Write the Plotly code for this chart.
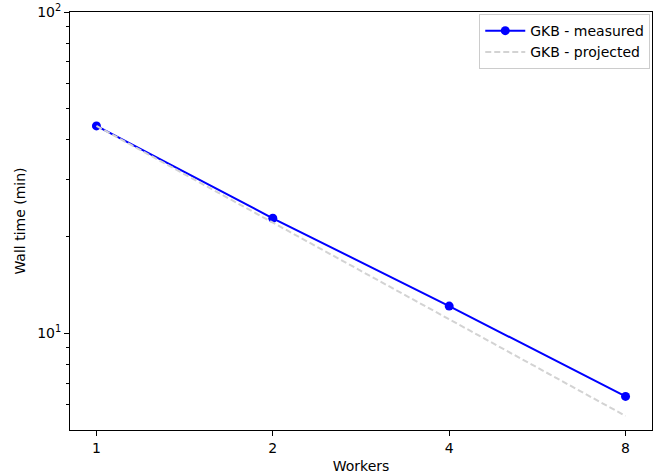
import numpy as np
import plotly.graph_objects as go

workers = [1, 2, 4, 8]
measured = [44.2, 22.8, 12.15, 6.36]
projected = [44.2, 22.1, 11.05, 5.53]
x_ticks = [1, 2, 4, 8]
x_tick_labels = ["1", "2", "4", "8"]
y_ticks = [10, 100]
y_tick_labels = ["10<sup>1</sup>", "10<sup>2</sup>"]
y_minor = [6, 7, 8, 9, 20, 30, 40, 50, 60, 70, 80, 90]

fig = go.Figure()
fig.add_trace(go.Scatter(
    x=workers, y=measured, mode="lines+markers", name="GKB - measured",
    line=dict(color="#0000ff", width=2), marker=dict(size=9, color="#0000ff")))
fig.add_trace(go.Scatter(
    x=workers, y=projected, mode="lines", name="GKB - projected",
    line=dict(color="#d3d3d3", width=2, dash="6px,3px")))

font = "DejaVu Sans"
fig.update_layout(
    width=666, height=475,
    margin=dict(l=70, r=14, t=12, b=45),
    paper_bgcolor="white", plot_bgcolor="white",
    font=dict(family=font, size=14, color="black"),
    showlegend=True,
    legend=dict(x=0.997, y=0.995, xanchor="right", yanchor="top",
                bordercolor="#cccccc", borderwidth=1, bgcolor="rgba(255,255,255,0.8)",
                font=dict(size=14), tracegroupgap=0, itemwidth=40),
    xaxis=dict(type="log", range=[np.log10(2 ** -0.15), np.log10(2 ** 3.15)],
               tickvals=x_ticks, ticktext=x_tick_labels, automargin=False,
               ticks="outside", ticklen=5, tickwidth=1, tickcolor="black",
               showline=True, linecolor="black", linewidth=1, mirror=True,
               showgrid=False, zeroline=False, tickfont=dict(size=14),
               title=dict(text="Workers", standoff=6, font=dict(size=14))),
    yaxis=dict(type="log", range=[np.log10(5), 2],
               tickvals=y_ticks, ticktext=y_tick_labels, automargin=False,
               ticks="outside", ticklen=5, tickwidth=1, tickcolor="black",
               minor=dict(tickvals=y_minor, ticks="outside", ticklen=3, tickcolor="black", showgrid=False),
               showline=True, linecolor="black", linewidth=1, mirror=True,
               showgrid=False, zeroline=False, tickfont=dict(size=14),
               title=dict(text="Wall time (min)", standoff=8, font=dict(size=14))),
)
fig.write_html("out.html")
